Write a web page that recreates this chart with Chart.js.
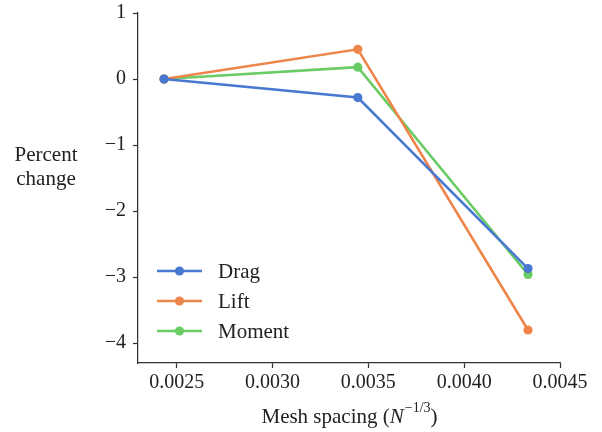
<!DOCTYPE html>
<html>
<head>
<meta charset="utf-8">
<script src="https://cdn.jsdelivr.net/npm/chart.js@4.4.1/dist/chart.umd.min.js"></script>
<style>
  html, body { margin: 0; padding: 0; background: #fff; }
  #wrap { width: 602px; height: 432px; }
</style>
</head>
<body>
<div id="wrap"><canvas id="meshChart"></canvas></div>
<script>
// convergence study: percent change of each coefficient vs mesh spacing
const meshSpacing = [0.002434, 0.003445, 0.004333];
const dragChange = [0, -0.28, -2.87];
const liftChange = [0, 0.45, -3.80];
const momentChange = [0, 0.18, -2.96];
const seriesNames = ['Drag', 'Lift', 'Moment'];
const xTicks = [0.0025, 0.0030, 0.0035, 0.0040, 0.0045];
const yTicks = [-4, -3, -2, -1, 0, 1];

const colors = ['#4878d0', '#ee854a', '#6acc64'];
const serif = '"Liberation Serif", "DejaVu Serif", serif';
const axisColor = '#333';

function toPoints(ys) {
    return meshSpacing.map((x, i) => ({ x: x, y: ys[i] }));
}

function makeSet(name, ys, color) {
    return {
        label: name,
        data: toPoints(ys),
        borderColor: color,
        backgroundColor: color,
        borderWidth: 2.6,
        pointRadius: 4.6,
        pointBorderWidth: 0,
        pointBackgroundColor: color,
        tension: 0
    };
}

// axis titles (horizontal y label, superscript on x label) and the inset legend
const annotations = {
    id: 'annotations',
    afterDraw(chart) {
        const ctx = chart.ctx;
        const area = chart.chartArea;
        ctx.save();
        ctx.fillStyle = '#222';

        ctx.font = '21px ' + serif;
        ctx.textAlign = 'center';
        ctx.textBaseline = 'middle';
        ctx.fillText('Percent', 46, 155);
        ctx.fillText('change', 46, 179);

        // Mesh spacing (N^{-1/3})
        const parts = [
            { t: 'Mesh spacing (', f: '21px ' + serif, dy: 0 },
            { t: 'N', f: 'italic 21px ' + serif, dy: 0 },
            { t: '\u22121/3', f: '14px ' + serif, dy: -11 },
            { t: ')', f: '21px ' + serif, dy: 0 }
        ];
        let total = 0;
        parts.forEach(p => { ctx.font = p.f; p.w = ctx.measureText(p.t).width; total += p.w; });
        let x = (area.left + area.right) / 2 - total / 2;
        ctx.textAlign = 'left';
        ctx.textBaseline = 'alphabetic';
        parts.forEach(p => {
            ctx.font = p.f;
            ctx.fillText(p.t, x, 423 + p.dy);
            x += p.w + (p.t === 'N' ? 1 : 0);
        });

        // legend in lower left of the plot
        ctx.font = '21px ' + serif;
        ctx.textBaseline = 'middle';
        chart.data.datasets.forEach((ds, i) => {
            const y = area.bottom - 92 + i * 30;
            ctx.strokeStyle = ds.borderColor;
            ctx.lineWidth = 2.6;
            ctx.beginPath();
            ctx.moveTo(area.left + 19, y);
            ctx.lineTo(area.left + 64, y);
            ctx.stroke();
            ctx.fillStyle = ds.borderColor;
            ctx.beginPath();
            ctx.arc(area.left + 41.5, y, 4.6, 0, Math.PI * 2);
            ctx.fill();
            ctx.fillStyle = '#222';
            ctx.fillText(ds.label, area.left + 80, y + 1);
        });
        ctx.restore();
    }
};

const ctx = document.getElementById('meshChart').getContext('2d');
const myChart = new Chart(ctx, {
    type: 'line',
    data: {
        datasets: [
            makeSet(seriesNames[0], dragChange, colors[0]),
            makeSet(seriesNames[1], liftChange, colors[1]),
            makeSet(seriesNames[2], momentChange, colors[2])
        ]
    },
    options: {
        responsive: true,
        maintainAspectRatio: false,
        animation: false,
        layout: { padding: { left: 0, right: 42, top: 13, bottom: 0 } },
        plugins: {
            legend: { display: false },
            tooltip: { enabled: false }
        },
        scales: {
            x: {
                type: 'linear',
                min: 0.002298,
                max: 0.0045,
                afterBuildTicks: scale => { scale.ticks = xTicks.map(v => ({ value: v })); },
                afterFit: scale => { scale.height = 69; },
                grid: {
                    display: true,
                    drawOnChartArea: false,
                    drawTicks: true,
                    tickLength: 5,
                    tickWidth: 1.25,
                    tickColor: axisColor
                },
                border: { display: true, color: axisColor, width: 1.25 },
                ticks: {
                    color: '#222',
                    padding: 3,
                    maxRotation: 0,
                    font: { family: serif, size: 20 },
                    callback: v => v.toFixed(4)
                }
            },
            y: {
                type: 'linear',
                min: -4.30,
                max: 1,
                afterBuildTicks: scale => { scale.ticks = yTicks.map(v => ({ value: v })); },
                afterFit: scale => { scale.width = 138; },
                grid: {
                    display: true,
                    drawOnChartArea: false,
                    drawTicks: true,
                    tickLength: 5,
                    tickWidth: 1.25,
                    tickColor: axisColor
                },
                border: { display: true, color: axisColor, width: 1.25 },
                ticks: {
                    color: '#222',
                    padding: 7,
                    // small line height keeps the top label from pushing the plot down
                    font: { family: serif, size: 20, lineHeight: 0.4 },
                    callback: v => (v < 0 ? '\u2212' + Math.abs(v) : String(v))
                }
            }
        }
    },
    plugins: [annotations]
});
</script>
</body>
</html>
